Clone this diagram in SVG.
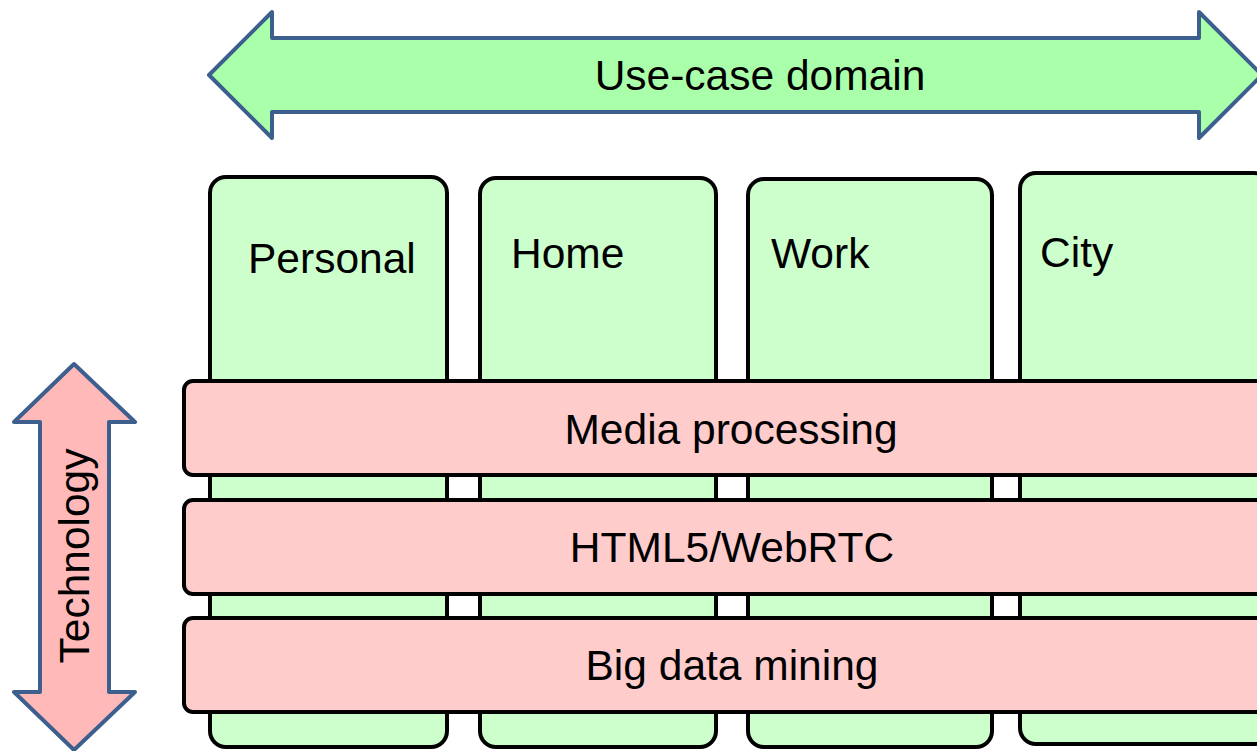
<svg xmlns="http://www.w3.org/2000/svg" width="1257" height="751" viewBox="0 0 1257 751">
  <style>
    .axis-h { fill: #AAFFAA; stroke: #3C5F8E; stroke-width: 4; stroke-linejoin: round; }
    .axis-v { fill: #FFB9B9; stroke: #3C5F8E; stroke-width: 4; stroke-linejoin: round; }
    .col { fill: #CCFFCC; stroke: #000; stroke-width: 4; }
    .bar { fill: #FFCCCC; stroke: #000; stroke-width: 4; }
    .lbl { font-family: "Liberation Sans", Arial, sans-serif; font-size: 42.5px; fill: #000; }
    .mid { text-anchor: middle; }
  </style>
  <rect width="1257" height="751" fill="#fff"/>

  <!-- axis arrows -->
  <g id="connectors">
    <g id="use-case-axis">
      <polygon class="axis-h" points="209,75 272,12 272,38 1199,38 1199,12 1262,75 1199,138 1199,112 272,112 272,138"/>
      <text class="lbl mid" x="760" y="90">Use-case domain</text>
    </g>
    <g id="technology-axis">
      <polygon class="axis-v" points="74,364 135,422 109,422 109,692 135,692 74,750 14,692 40,692 40,422 14,422"/>
      <text class="lbl mid" transform="translate(89,556) rotate(-90)">Technology</text>
    </g>
  </g>

  <!-- use-case columns -->
  <g id="col-personal">
    <rect class="col" x="210" y="177" width="237" height="570" rx="16"/>
    <text class="lbl" x="248" y="273">Personal</text>
  </g>
  <g id="col-home">
    <rect class="col" x="480" y="178" width="236" height="569" rx="16"/>
    <text class="lbl" x="511" y="268">Home</text>
  </g>
  <g id="col-work">
    <rect class="col" x="748" y="179" width="244" height="568" rx="16"/>
    <text class="lbl" x="771" y="268">Work</text>
  </g>
  <g id="col-city">
    <rect class="col" x="1020" y="173" width="250" height="571" rx="16"/>
    <text class="lbl" x="1040" y="267">City</text>
  </g>

  <!-- technology layers -->
  <g id="bar-media">
    <rect class="bar" x="184" y="381" width="1090" height="94" rx="9"/>
    <text class="lbl mid" x="731" y="444">Media processing</text>
  </g>
  <g id="bar-html5">
    <rect class="bar" x="184" y="500" width="1090" height="94" rx="9"/>
    <text class="lbl mid" x="732" y="562">HTML5/WebRTC</text>
  </g>
  <g id="bar-bigdata">
    <rect class="bar" x="184" y="618" width="1090" height="94" rx="9"/>
    <text class="lbl mid" x="732" y="680">Big data mining</text>
  </g>
</svg>
